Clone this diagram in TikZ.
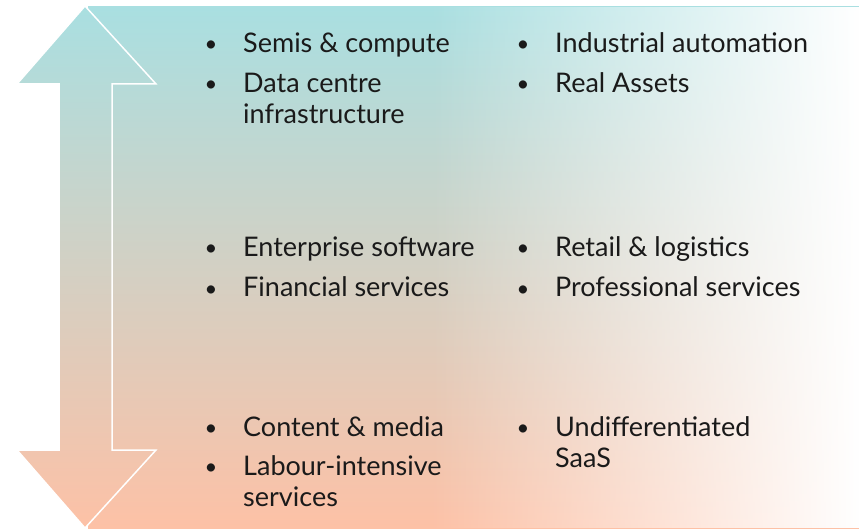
\documentclass[tikz,border=0pt]{standalone}
\usepackage{fontspec}
\setmainfont{Lato}
\usetikzlibrary{fadings}
\definecolor{tealtop}{HTML}{A9DFE1}
\definecolor{peachbot}{HTML}{FDC1A6}
\definecolor{ink}{HTML}{1A1A1A}
\tikzset{
  item/.style={anchor=base west, align=left, inner sep=0pt, text=ink,
    font=\fontsize{27}{31}\selectfont},
  bull/.style={anchor=base, inner sep=0pt, text=ink,
    font=\fontsize{22}{31}\selectfont},
}

\begin{document}
\begin{tikzpicture}[x=1pt,y=1pt]
  \useasboundingbox (0,0) rectangle (859,528);
  % background panel, fading to white on the right
  \shade[top color=tealtop, bottom color=peachbot] (88,0) rectangle (859,521);
  \fill[white, path fading=west] (430,0) rectangle (859,521);

  % double headed arrow
  \shade[top color=tealtop, bottom color=peachbot, draw=white, line width=1.5pt]
    (85,522) -- (156,444) -- (112,444) -- (112,78) -- (156,78) -- (85,0)
    -- (17,78) -- (59,78) -- (59,444) -- (17,444) -- cycle;

  % top row (two-line items sit on their last baseline)
  \node[bull] (b1) at (211,476) {\textbullet};
  \node[item] (semis) at (243,475) {Semis \& compute};
  \node[bull] (b2) at (211,436) {\textbullet};
  \node[item] (datacentre) at (243,404) {Data centre\\infrastructure};
  \node[bull] (b3) at (523,476) {\textbullet};
  \node[item] (industrial) at (555,475) {Industrial automation};
  \node[bull] (b4) at (523,436) {\textbullet};
  \node[item] (realassets) at (555,435) {Real Assets};

  % middle row
  \node[bull] (b5) at (211,272) {\textbullet};
  \node[item] (enterprise) at (243,271) {Enterprise software};
  \node[bull] (b6) at (211,232) {\textbullet};
  \node[item] (financial) at (243,231) {Financial services};
  \node[bull] (b7) at (523,272) {\textbullet};
  \node[item] (retail) at (555,271) {Retail \& logistics};
  \node[bull] (b8) at (523,232) {\textbullet};
  \node[item] (professional) at (555,231) {Professional services};

  % bottom row
  \node[bull] (b9) at (211,93) {\textbullet};
  \node[item] (content) at (243,92) {Content \& media};
  \node[bull] (b10) at (211,54) {\textbullet};
  \node[item] (labour) at (243,22) {Labour-intensive\\services};
  \node[bull] (b11) at (523,93) {\textbullet};
  \node[item] (saas) at (555,61) {Undifferentiated\\SaaS};
\end{tikzpicture}
\end{document}
